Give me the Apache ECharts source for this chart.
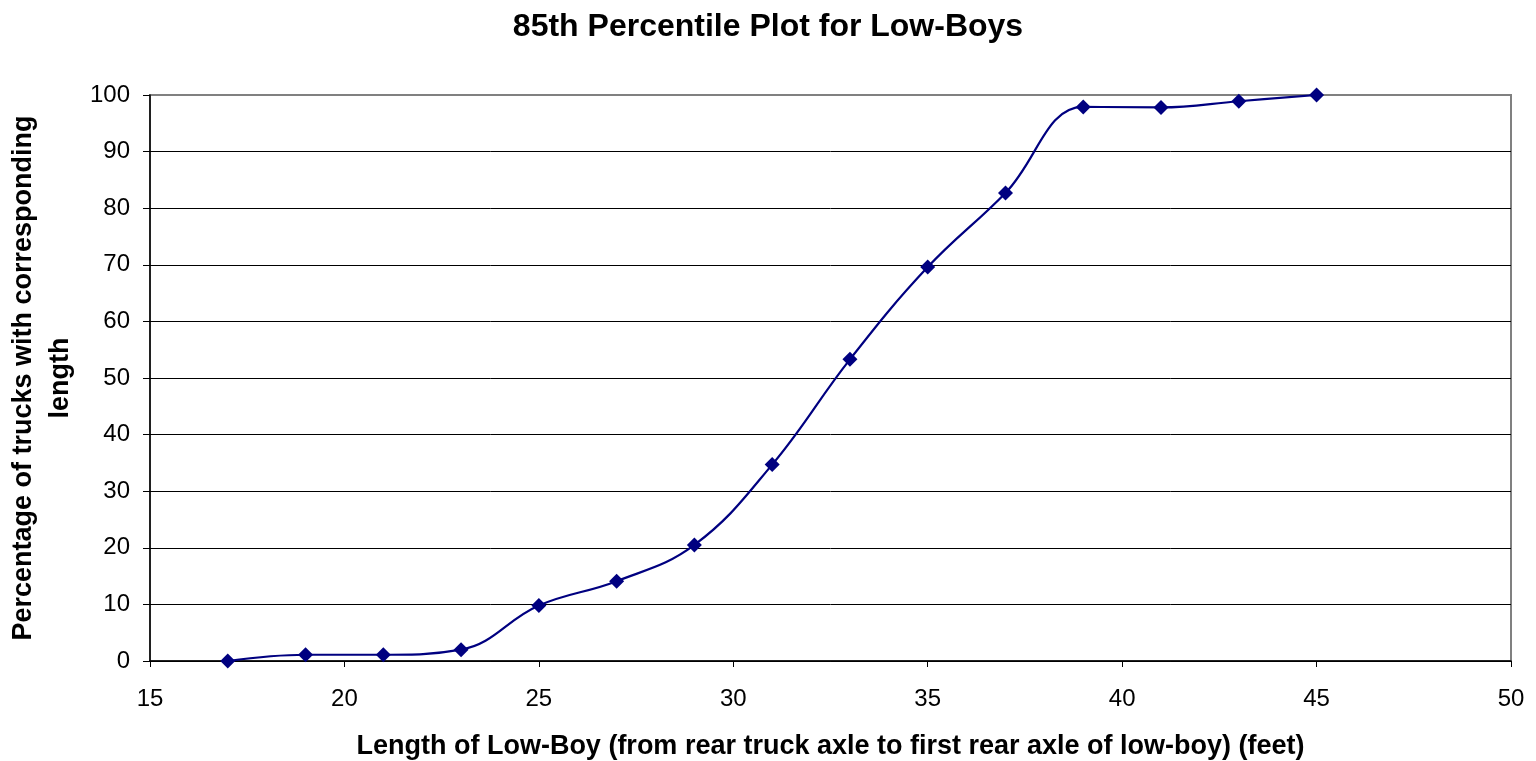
<!DOCTYPE html>
<html>
<head>
<meta charset="utf-8">
<script src="https://cdn.jsdelivr.net/npm/echarts@6/dist/echarts.min.js"></script>
<style>
  html, body { margin: 0; padding: 0; background: #fff; }
  #chart { width: 1536px; height: 761px; }
</style>
</head>
<body>
<div id="chart"></div>
<script>
// Length of low-boy (feet) and cumulative percentage of trucks
const lengths = [17, 19, 21, 23, 25, 27, 29, 31, 33, 35, 37, 39, 41, 43, 45];
const percentages = [0, 1.1, 1.1, 2.0, 9.8, 14.1, 20.5, 34.7, 53.3, 69.6, 82.7, 97.9, 97.8, 98.9, 100];

const titleText = '85th Percentile Plot for Low-Boys';
const xAxisTitle = 'Length of Low-Boy (from rear truck axle to first rear axle of low-boy) (feet)';
const yAxisTitle = 'Percentage of trucks with corresponding\nlength';

const points = lengths.map((x, i) => [x, percentages[i]]);
const font = '"Liberation Sans", Arial, sans-serif';

const chart = echarts.init(document.getElementById('chart'), null, { renderer: 'canvas' });
chart.setOption({
  animation: false,
  backgroundColor: '#ffffff',
  title: {
    text: titleText,
    left: 'center',
    top: 6,
    textStyle: { fontFamily: font, fontSize: 32, fontWeight: 'bold', color: '#000' }
  },
  grid: {
    left: 150, right: 25, top: 95, bottom: 100,
    outerBoundsMode: 'none',
    containLabel: false,
    show: true,
    borderColor: '#808080',
    borderWidth: 2,
    backgroundColor: '#fff'
  },
  xAxis: {
    type: 'value',
    min: 15, max: 50, interval: 5,
    name: xAxisTitle,
    nameLocation: 'middle',
    nameGap: 72,
    nameTextStyle: { fontFamily: font, fontSize: 27, fontWeight: 'bold', color: '#000' },
    axisLine: { show: true, lineStyle: { color: '#000', width: 1.5 } },
    axisTick: { show: true, length: 6, lineStyle: { color: '#000' } },
    axisLabel: { fontFamily: font, fontSize: 24, color: '#000', margin: 26 },
    splitLine: { show: false }
  },
  yAxis: {
    type: 'value',
    min: 0, max: 100, interval: 10,
    name: yAxisTitle,
    nameLocation: 'middle',
    nameGap: 68,
    nameTextStyle: { fontFamily: font, fontSize: 27, fontWeight: 'bold', color: '#000', lineHeight: 37 },
    axisLine: { show: true, lineStyle: { color: '#000', width: 1.5 } },
    axisTick: { show: true, length: 7, lineStyle: { color: '#000' } },
    axisLabel: { fontFamily: font, fontSize: 24, color: '#000', margin: 20 },
    splitLine: { show: true, showMaxLine: false, lineStyle: { color: '#000', width: 1 } }
  },
  series: [{
    type: 'line',
    data: points,
    smooth: 0.4,
    symbol: 'diamond',
    symbolSize: 15,
    itemStyle: { color: '#000080' },
    lineStyle: { color: '#000080', width: 2.2 },
    z: 5
  }]
});
</script>
</body>
</html>
